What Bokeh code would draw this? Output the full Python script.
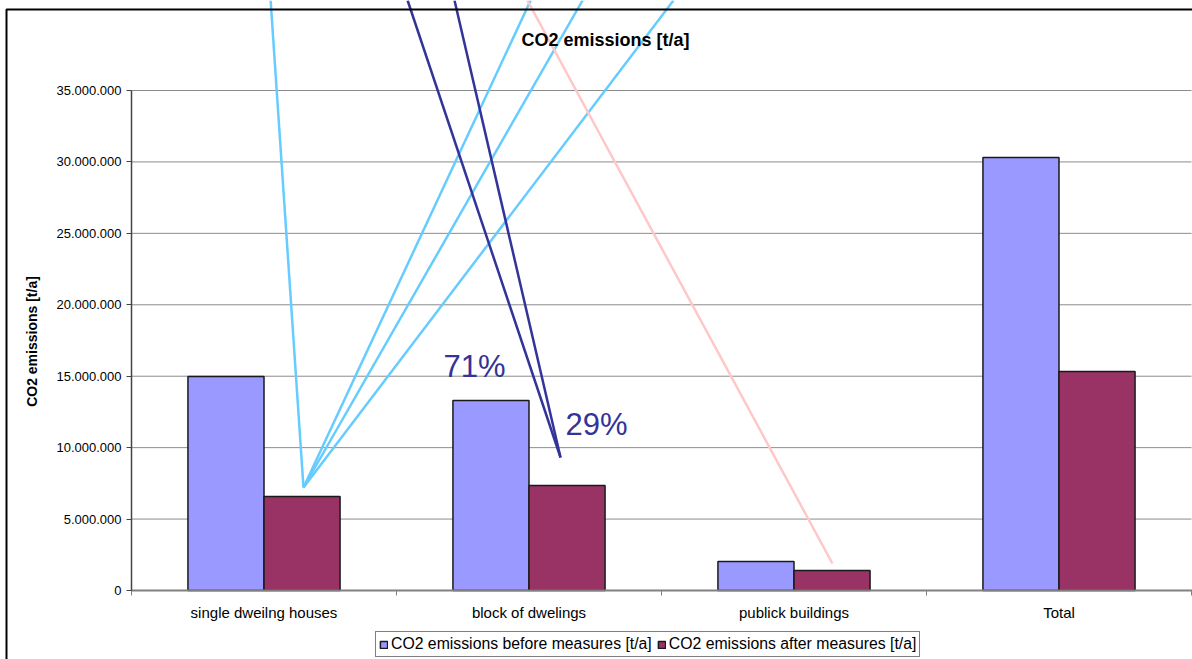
import numpy as np
from bokeh.plotting import figure
from bokeh.models import (Range1d, FixedTicker, Legend, LegendItem, Label, BoxAnnotation, LinearAxis)
from bokeh.core.properties import value
from bokeh.embed import file_html
from bokeh.resources import INLINE

# ---- data -------------------------------------------------------------
categories = ["single dweilng houses", "block of dwelings", "publick buildings", "Total"]
before = [14_980_000, 13_300_000, 2_030_000, 30_310_000]
after = [6_580_000, 7_350_000, 1_400_000, 15_330_000]
series_names = ["CO2 emissions before measures [t/a]", "CO2 emissions after measures [t/a]"]

y_ticks = [0, 5_000_000, 10_000_000, 15_000_000, 20_000_000, 25_000_000, 30_000_000, 35_000_000]
y_tick_labels = ["0", "5.000.000", "10.000.000", "15.000.000", "20.000.000",
                 "25.000.000", "30.000.000", "35.000.000"]

# stray callout lines on the chart (x in category units, y in t/a)
cyan_x0 = [0.649, 0.649, 0.649, 0.649]
cyan_y0 = [7_210_000, 7_210_000, 7_210_000, 7_210_000]
cyan_x1 = [0.525, 1.506, 1.702, 2.045]
cyan_y1 = [41_300_000, 41_300_000, 41_300_000, 41_300_000]

navy_x0 = [1.042, 1.219]
navy_y0 = [41_300_000, 41_300_000]
navy_x1 = [1.619, 1.619]
navy_y1 = [9_310_000, 9_310_000]

pink_x0 = [1.494]
pink_y0 = [41_300_000]
pink_x1 = [2.645]
pink_y1 = [1_890_000]

pct_labels = ["71%", "29%"]
pct_x = [1.177, 1.638]
pct_y = [15_680_000, 11_620_000]

FONT = "Liberation Sans"

# ---- layout constants (pixels) -----------------------------------------
W, H = 1192, 659
AXIS_LEFT_PX = 131      # where the value axis sits
CAT_PX = 265            # width of one category
BASE_PX = 590           # pixel row of value 0
UNITS_PER_PX = 35_000_000 / 500

x_range = Range1d(-AXIS_LEFT_PX / CAT_PX, (W - AXIS_LEFT_PX) / CAT_PX)
y_range = Range1d(-(H - BASE_PX) * UNITS_PER_PX, BASE_PX * UNITS_PER_PX)

p = figure(width=W, height=H, output_backend="svg", toolbar_location=None,
           x_range=x_range, y_range=y_range, x_axis_type=None, y_axis_type=None,
           min_border=0)
p.outline_line_color = None
p.background_fill_color = "white"
p.border_fill_color = "white"
p.xgrid.visible = False
p.ygrid.visible = False

n = len(categories)
idx = np.arange(n)

# gridlines
p.segment(x0=[0] * len(y_ticks[1:]), y0=y_ticks[1:], x1=[n] * len(y_ticks[1:]), y1=y_ticks[1:],
          line_color="#8c8c8c", line_width=1)

bw = 0.287
rb = p.vbar(x=idx + 0.5 - bw / 2, top=before, width=bw, fill_color="#9999FF",
            line_color="#1a1a1a", line_width=1.5)
ra = p.vbar(x=idx + 0.5 + bw / 2, top=after, width=bw, fill_color="#993366",
            line_color="#1a1a1a", line_width=1.5)

p.segment(cyan_x0, cyan_y0, cyan_x1, cyan_y1, line_color="#66CCFF", line_width=2.5)
p.segment(navy_x0, navy_y0, navy_x1, navy_y1, line_color="#333399", line_width=2.5)
p.segment(pink_x0, pink_y0, pink_x1, pink_y1, line_color="#FFC8C8", line_width=2.5)

p.text(x=pct_x, y=pct_y, text=pct_labels, text_font=value(FONT), text_font_size="31px",
       text_color="#333399", text_align="left", text_baseline="alphabetic")

# axes (fixed inside the frame)
yax = LinearAxis(fixed_location=0)
yax.ticker = FixedTicker(ticks=y_ticks)
yax.major_label_overrides = dict(zip(y_ticks, y_tick_labels))
yax.bounds = (0, 35_000_000)
yax.axis_line_color = "#444444"
yax.axis_line_width = 1.5
yax.major_tick_out = 5
yax.major_tick_in = 0
yax.major_tick_line_color = "#444444"
yax.minor_tick_line_color = None
yax.major_label_text_font = FONT
yax.major_label_text_font_size = "13px"
yax.major_label_text_color = "black"
yax.major_label_standoff = 5
p.add_layout(yax, "left")

xax = LinearAxis(fixed_location=0)
cat_pos = [float(i) + 0.5 for i in idx]
xax.ticker = FixedTicker(ticks=cat_pos, minor_ticks=[float(i) for i in range(n + 1)])
xax.major_label_overrides = dict(zip(cat_pos, categories))
xax.bounds = (0, x_range.end)
xax.axis_line_color = "#808080"
xax.axis_line_width = 2
xax.major_tick_line_color = None
xax.major_tick_out = 5
xax.major_tick_in = 0
xax.minor_tick_line_color = "#808080"
xax.minor_tick_out = 5
xax.minor_tick_in = 0
xax.major_label_text_font = FONT
xax.major_label_text_font_size = "15px"
xax.major_label_text_color = "black"
xax.major_label_standoff = 8
p.add_layout(xax, "below")

# texts
p.add_layout(Label(x=605, y=39, x_units="canvas", y_units="canvas", text="CO2 emissions [t/a]",
                   text_font=FONT, text_font_style="bold", text_font_size="18px",
                   text_align="center", text_baseline="middle", text_color="black"))
p.add_layout(Label(x=31, y=341, x_units="canvas", y_units="canvas", text="CO2 emissions [t/a]",
                   angle=np.pi / 2, text_font=FONT, text_font_style="bold", text_font_size="14px",
                   text_align="center", text_baseline="middle", text_color="black"))

# chart border
p.add_layout(BoxAnnotation(left=6, right=1400, top=9, bottom=900,
                           left_units="canvas", right_units="canvas",
                           top_units="canvas", bottom_units="canvas",
                           fill_alpha=0, line_color="black", line_alpha=1, line_width=2))

legend = Legend(items=[LegendItem(label=series_names[0], renderers=[rb]),
                       LegendItem(label=series_names[1], renderers=[ra])],
                orientation="horizontal", location=(375, 2))
legend.border_line_color = "black"
legend.border_line_width = 1
legend.background_fill_color = "white"
legend.background_fill_alpha = 1
legend.label_text_font = FONT
legend.label_text_font_size = "15.8px"
legend.label_text_color = "black"
legend.glyph_width = 9
legend.glyph_height = 9
legend.label_standoff = 3
legend.spacing = 5
legend.padding = 3
legend.margin = 0
legend.label_height = 16
p.add_layout(legend, "center")

open("out.html", "w").write(file_html(p, INLINE))
